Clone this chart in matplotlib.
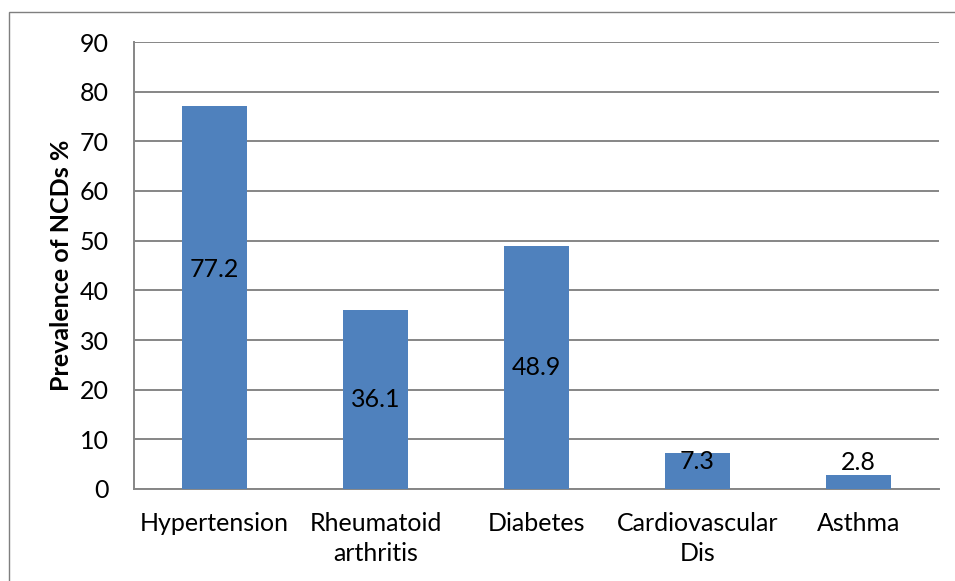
import matplotlib.pyplot as plt
from matplotlib.patches import Rectangle

# data
categories = ['Hypertension', 'Rheumatoid\narthritis', 'Diabetes', 'Cardiovascular\nDis', 'Asthma']
prevalence = [77.2, 36.1, 48.9, 7.3, 2.8]
y_ticks = [0, 10, 20, 30, 40, 50, 60, 70, 80, 90]

bar_color = '#4F81BD'
grid_color = '#868686'
plt.rcParams['font.family'] = ['Lato', 'DejaVu Sans']

fig = plt.figure(figsize=(9.55, 5.81), dpi=100)
ax = fig.add_axes([134 / 955, 1 - 489 / 581, (939 - 134) / 955, (489 - 42) / 581])

x = range(len(categories))
ax.bar(x, prevalence, width=0.4, color=bar_color, zorder=3)

ax.set_xlim(-0.5, len(categories) - 0.5)
ax.set_ylim(0, 90)
ax.set_yticks(y_ticks)
ax.set_xticks(list(x))
ax.set_xticklabels(categories, fontsize=18, linespacing=1.35)
ax.tick_params(axis='y', labelsize=18, length=0, pad=18)
ax.tick_params(axis='x', length=0, pad=16.5)
ax.yaxis.grid(True, color=grid_color, linewidth=1.4, zorder=0)

for side in ['top', 'right']:
    ax.spines[side].set_visible(False)
for side in ['left', 'bottom']:
    ax.spines[side].set_color(grid_color)
    ax.spines[side].set_linewidth(1.4)

ax.set_ylabel('Prevalence of NCDs %', fontsize=18, fontweight='bold', labelpad=5)

# data labels, placed roughly as in the original chart
for i, v in enumerate(prevalence):
    if v < 5:
        ax.text(i, v + 0.3, f'{v}', ha='center', va='bottom', fontsize=18, zorder=4)
    elif v < 10:
        ax.text(i, v + 0.6, f'{v}', ha='center', va='top', fontsize=18, zorder=4)
    elif i == 0:
        ax.text(i, v / 2 + 5.5, f'{v}', ha='center', va='center', fontsize=18, zorder=4)
    else:
        ax.text(i, v / 2, f'{v}', ha='center', va='center', fontsize=18, zorder=4)

# chart border (partly cut off on right and bottom)
fig.patches.append(Rectangle((9 / 955, -0.05), 1.0, 1 - 12 / 581 + 0.05,
                             transform=fig.transFigure, fill=False,
                             edgecolor='#7f7f7f', linewidth=1.0))

fig.savefig('out.png', dpi=100)
